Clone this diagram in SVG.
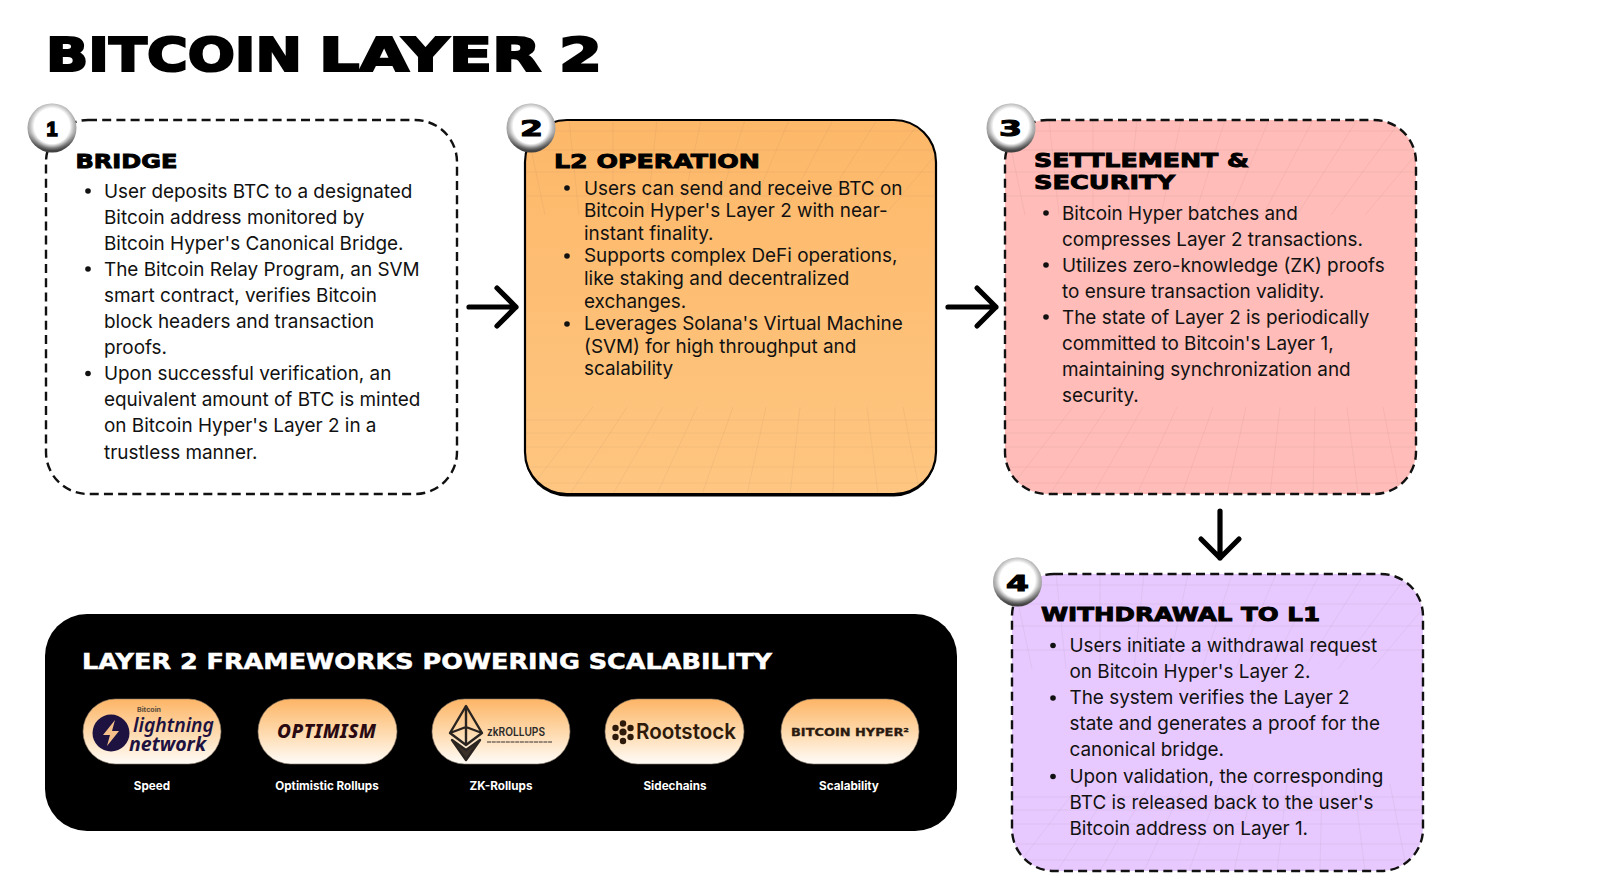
<svg xmlns="http://www.w3.org/2000/svg" width="1600" height="889" viewBox="0 0 1600 889">
<style>
.wide{font-family:"DejaVu Sans","Liberation Sans",sans-serif;font-weight:700;stroke:#000;stroke-width:.9;fill:#000}
.body{font-family:Inter,"Liberation Sans",sans-serif;font-size:18.9px;fill:#111}
.dash{stroke:#111;stroke-width:2.4;stroke-dasharray:9 5.2}
.grid{stroke:#7a5a50;stroke-width:1;opacity:.075;fill:none}
.arrow{fill:none;stroke:#000;stroke-width:5.2;stroke-linecap:round;stroke-linejoin:round}
.lab{font-family:Inter,"Liberation Sans",sans-serif;font-size:11.7px;font-weight:700;fill:#fff;text-anchor:middle}
.pill{fill:url(#pillg);stroke:#8a7a6a;stroke-width:.6}
.dig{font-size:21px;stroke-width:1}
</style>
<defs>
<linearGradient id="pillg" x1="0" y1="0" x2="0" y2="1"><stop offset="0" stop-color="#fdb566"/><stop offset=".55" stop-color="#fedcb2"/><stop offset="1" stop-color="#fffcf8"/></linearGradient>
<linearGradient id="ring" x1="0" y1="0" x2="0" y2="1"><stop offset="0" stop-color="#a8a8a8"/><stop offset=".6" stop-color="#999"/><stop offset=".88" stop-color="#4a4a4a"/><stop offset="1" stop-color="#333"/></linearGradient>
<radialGradient id="glow" cx=".5" cy=".46" r=".5"><stop offset="0" stop-color="#fff"/><stop offset=".72" stop-color="#fff"/><stop offset=".9" stop-color="#fff" stop-opacity=".3"/><stop offset="1" stop-color="#fff" stop-opacity=".05"/></radialGradient>
<linearGradient id="o2" x1="0" y1="0" x2="0" y2="1"><stop offset="0" stop-color="#fdb869"/><stop offset="1" stop-color="#fec681"/></linearGradient>
<clipPath id="cb"><rect width="411" height="374" rx="42"/></clipPath>
<clipPath id="cd"><rect width="411" height="297" rx="42"/></clipPath>
<path id="gridtop" class="grid" d="M0 11H411M0 30H411M0 52H411M0 76H411M-44 0L-20 95M0 0L20 95M44 0L54 95M88 0L88 95M132 0L122 95M176 0L156 95M220 0L190 95M264 0L224 95M308 0L258 95M352 0L292 95M396 0L326 95M440 0L360 95"/>
<path id="gridbot" class="grid" d="M0 300H411M0 313H411M0 327H411M0 347H411M0 363H411M45 374L102 287M88 374L138 287M132 374L172 287M177 374L208 287M222 374L241 287M265 374L275 287M308 374L310 287M353 374L342 287M395 374L378 287M1 374L68 287"/>
<g id="badge"><circle r="24.500" fill="url(#ring)"/><circle r="24.500" fill="url(#glow)"/></g>
</defs>
<rect width="1600" height="889" fill="#fff"/>
<text id="title" class="wide" y="71" font-size="47" style="stroke-width:2.2"><tspan x="46" textLength="256" lengthAdjust="spacingAndGlyphs">BITCOIN</tspan> <tspan x="319" textLength="222" lengthAdjust="spacingAndGlyphs">LAYER</tspan> <tspan x="559" textLength="43" lengthAdjust="spacingAndGlyphs">2</tspan></text>

<g id="connectors">
<path class="arrow" d="M469 307H516M497 288L516 307L497 326"/>
<path class="arrow" d="M948 307H996M977 288L996 307L977 326"/>
<path class="arrow" d="M1220 511V558M1201 539L1220 558L1239 539"/>
</g>

<g id="node1">
<rect class="dash" x="46" y="120" width="411" height="374" rx="42" fill="#fff"/>
<text class="wide" x="75.500" y="167.500" font-size="19" textLength="102" lengthAdjust="spacingAndGlyphs">BRIDGE</text>
<g class="body">
<circle cx="88" cy="191" r="2.800"/><circle cx="88" cy="269" r="2.800"/><circle cx="88" cy="373.500" r="2.800"/>
<text x="104" y="197.500">User deposits BTC to a designated</text>
<text x="104" y="223.600">Bitcoin address monitored by</text>
<text x="104" y="249.700">Bitcoin Hyper's Canonical Bridge.</text>
<text x="104" y="275.800">The Bitcoin Relay Program, an SVM</text>
<text x="104" y="301.900">smart contract, verifies Bitcoin</text>
<text x="104" y="328">block headers and transaction</text>
<text x="104" y="354.100">proofs.</text>
<text x="104" y="380.200">Upon successful verification, an</text>
<text x="104" y="406.300">equivalent amount of BTC is minted</text>
<text x="104" y="432.400">on Bitcoin Hyper's Layer 2 in a</text>
<text x="104" y="458.500">trustless manner.</text>
</g>
<use href="#badge" x="52" y="128"/>
<text class="wide dig" x="46.500" y="136" style="font-family:'Liberation Sans',sans-serif;stroke-width:1.6" textLength="11" lengthAdjust="spacingAndGlyphs">1</text>
</g>

<g id="node2">
<rect x="525" y="122.500" width="411" height="374" rx="42" fill="#000"/>
<rect x="525" y="120" width="411" height="374" rx="42" fill="url(#o2)" stroke="#000" stroke-width="2.200"/>
<g clip-path="url(#cb)" transform="translate(525 120)"><use href="#gridtop"/><use href="#gridbot"/></g>
<text class="wide" x="554" y="167.500" font-size="19" textLength="206" lengthAdjust="spacingAndGlyphs">L2 OPERATION</text>
<g class="body">
<circle cx="567" cy="188" r="2.800"/><circle cx="567" cy="256" r="2.800"/><circle cx="567" cy="324" r="2.800"/>
<text x="584" y="194.500">Users can send and receive BTC on</text>
<text x="584" y="217.100">Bitcoin Hyper's Layer 2 with near-</text>
<text x="584" y="239.700">instant finality.</text>
<text x="584" y="262.300">Supports complex DeFi operations,</text>
<text x="584" y="284.900">like staking and decentralized</text>
<text x="584" y="307.500">exchanges.</text>
<text x="584" y="330.100">Leverages Solana's Virtual Machine</text>
<text x="584" y="352.700">(SVM) for high throughput and</text>
<text x="584" y="375.300">scalability</text>
</g>
<use href="#badge" x="531" y="128"/>
<text class="wide dig" x="520" y="136" textLength="23" lengthAdjust="spacingAndGlyphs">2</text>
</g>

<g id="node3">
<rect x="1005" y="120" width="411" height="374" rx="42" fill="#ffbcb8"/>
<g clip-path="url(#cb)" transform="translate(1005 120)"><use href="#gridtop"/><use href="#gridbot"/></g>
<rect class="dash" x="1005" y="120" width="411" height="374" rx="42" fill="none"/>
<text class="wide" x="1034" y="167" font-size="19" textLength="215" lengthAdjust="spacingAndGlyphs">SETTLEMENT &amp;</text>
<text class="wide" x="1034" y="189" font-size="19" textLength="141" lengthAdjust="spacingAndGlyphs">SECURITY</text>
<g class="body">
<circle cx="1046" cy="213" r="2.800"/><circle cx="1046" cy="265" r="2.800"/><circle cx="1046" cy="317" r="2.800"/>
<text x="1062" y="219.500">Bitcoin Hyper batches and</text>
<text x="1062" y="245.600">compresses Layer 2 transactions.</text>
<text x="1062" y="271.700">Utilizes zero-knowledge (ZK) proofs</text>
<text x="1062" y="297.800">to ensure transaction validity.</text>
<text x="1062" y="323.900">The state of Layer 2 is periodically</text>
<text x="1062" y="350">committed to Bitcoin's Layer 1,</text>
<text x="1062" y="376.100">maintaining synchronization and</text>
<text x="1062" y="402.200">security.</text>
</g>
<use href="#badge" x="1011" y="128"/>
<text class="wide dig" x="999" y="136" textLength="23" lengthAdjust="spacingAndGlyphs">3</text>
</g>

<g id="node4">
<rect x="1012" y="574" width="411" height="297" rx="42" fill="#e8c9ff"/>
<g clip-path="url(#cd)" transform="translate(1012 574)"><use href="#gridtop"/><use href="#gridbot" y="-77"/></g>
<rect class="dash" x="1012" y="574" width="411" height="297" rx="42" fill="none"/>
<text class="wide" x="1041" y="621" font-size="19" textLength="279" lengthAdjust="spacingAndGlyphs">WITHDRAWAL TO L1</text>
<g class="body">
<circle cx="1053" cy="645.500" r="2.800"/><circle cx="1053" cy="698" r="2.800"/><circle cx="1053" cy="776.500" r="2.800"/>
<text x="1069.500" y="652">Users initiate a withdrawal request</text>
<text x="1069.500" y="678.100">on Bitcoin Hyper's Layer 2.</text>
<text x="1069.500" y="704.200">The system verifies the Layer 2</text>
<text x="1069.500" y="730.300">state and generates a proof for the</text>
<text x="1069.500" y="756.400">canonical bridge.</text>
<text x="1069.500" y="782.500">Upon validation, the corresponding</text>
<text x="1069.500" y="808.600">BTC is released back to the user's</text>
<text x="1069.500" y="834.700">Bitcoin address on Layer 1.</text>
</g>
<use href="#badge" x="1017.500" y="582"/>
<text class="wide dig" x="1006" y="591" textLength="23" lengthAdjust="spacingAndGlyphs">4</text>
</g>

<g id="frameworks">
<rect x="45" y="614" width="912" height="217" rx="42" fill="#000"/>
<text class="wide" x="82" y="669" font-size="21" textLength="690" lengthAdjust="spacingAndGlyphs" style="fill:#fff;stroke:#fff;stroke-width:.5">LAYER 2 FRAMEWORKS POWERING SCALABILITY</text>
<g id="fw-lightning">
<rect class="pill" x="83" y="699" width="138" height="65" rx="32.500"/>
<text x="137" y="712" font-family="Inter,sans-serif" font-size="6.500" font-weight="700" fill="#5a4a3a" textLength="24" lengthAdjust="spacingAndGlyphs">Bitcoin</text>
<circle cx="111" cy="733" r="18.500" fill="#1d1240"/>
<path d="M115 720L103 735H110L107 746L119 731H112Z" fill="#f6c08a"/>
<text x="133" y="732" font-family="'Noto Sans',sans-serif" font-style="italic" font-weight="600" font-size="19" fill="#1d1240" textLength="81" lengthAdjust="spacingAndGlyphs">lightning</text>
<text x="129" y="751" font-family="'Noto Sans',sans-serif" font-style="italic" font-weight="700" font-size="19" fill="#1d1240" textLength="77" lengthAdjust="spacingAndGlyphs">network</text>
<text class="lab" x="152" y="790">Speed</text>
</g>
<g id="fw-optimism">
<rect class="pill" x="258" y="699" width="139" height="65" rx="32.500"/>
<text x="277" y="738" font-family="'Noto Sans',sans-serif" font-style="italic" font-weight="800" font-size="19" fill="#2a0a12" textLength="99" lengthAdjust="spacing">OPTIMISM</text>
<text class="lab" x="327" y="790">Optimistic Rollups</text>
</g>
<g id="fw-zk">
<rect class="pill" x="432" y="699" width="138" height="65" rx="32.500"/>
<g fill="none" stroke="#2a2420" stroke-width="2.400" stroke-linejoin="round"><path d="M466 706L482 733L466 745L450 733Z"/><path d="M466 706V745M450 733L466 727L482 733"/><path d="M452 740L466 760L480 740L466 750Z" fill="#3a3028"/></g>
<text x="487" y="736" font-family="Inter,sans-serif" font-weight="600" font-size="11.500" fill="#2a2a2a" textLength="58" lengthAdjust="spacingAndGlyphs">zkROLLUPS</text>
<path d="M487 742H552" stroke="#7a6a60" stroke-width="1.300" stroke-dasharray="4 .7"/>
<text class="lab" x="501" y="790">ZK-Rollups</text>
</g>
<g id="fw-rootstock">
<rect class="pill" x="605" y="699" width="139" height="65" rx="32.500"/>
<g fill="#2e1a0a"><circle cx="623" cy="723.500" r="3.200"/><circle cx="615.500" cy="728" r="3.200"/><circle cx="630.500" cy="728" r="3.200"/><circle cx="623" cy="732" r="3.600"/><circle cx="615.500" cy="737" r="3.200"/><circle cx="630.500" cy="737" r="3.200"/><circle cx="623" cy="741" r="3.200"/></g>
<text x="636" y="739" font-family="Inter,sans-serif" font-weight="600" font-size="22" fill="#2e1a0a" textLength="100" lengthAdjust="spacingAndGlyphs">Rootstock</text>
<text class="lab" x="675" y="790">Sidechains</text>
</g>
<g id="fw-hyper">
<rect class="pill" x="781" y="699" width="138" height="65" rx="32.500"/>
<text class="wide" x="791" y="736" font-size="10.500" textLength="118" lengthAdjust="spacingAndGlyphs" style="fill:#2a1a10;stroke:#2a1a10;stroke-width:.3">BITCOIN HYPER²</text>
<text class="lab" x="849" y="790">Scalability</text>
</g>
</g>
</svg>
